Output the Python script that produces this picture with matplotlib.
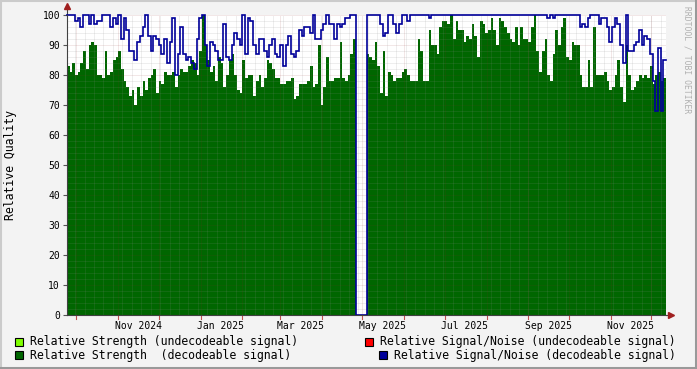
import matplotlib
matplotlib.use("Agg")
import matplotlib.pyplot as plt
from matplotlib.patches import Rectangle
from matplotlib.lines import Line2D
from datetime import datetime, timedelta

# ---------------- data (one value every 2 days) ----------------
start_date = datetime(2024, 9, 24)
end_date = datetime(2025, 12, 12)
step_days = 2

strength_decodeable = [
    83, 81, 84, 80, 81, 84, 88, 82, 90, 91, 90, 80, 80, 79, 88, 80, 81, 85, 86, 88,
    82, 78, 76, 73, 75, 70, 76, 73, 78, 75, 79, 80, 82, 74, 78, 77, 81,
    80, 80, 81, 76, 80, 82, 81, 81, 83, 85, 84, 80, 88, 100, 90, 85, 81, 83, 78, 86,
    84, 76, 80, 85, 87, 80, 75, 74, 85, 79, 80, 80, 73, 78, 80, 76, 79,
    85, 84, 82, 79, 79, 77, 77, 78, 78, 79, 72, 73, 77, 77, 77, 78, 83, 76, 77, 90,
    70, 76, 86, 78, 78, 79, 79, 91, 79, 78, 80, 87, 92, 0, 0, 0, 0,
    87, 86, 85, 91, 83, 74, 88, 73, 81, 80, 78, 79, 79, 81, 82, 80, 78, 78, 78, 92,
    88, 78, 78, 95, 90, 90, 87, 96, 98, 98, 97, 100, 92, 98, 95, 95, 91,
    93, 92, 97, 93, 86, 98, 97, 94, 95, 99, 95, 90, 99, 98, 96, 94, 92, 91, 96, 90,
    96, 92, 92, 91, 96, 100, 88, 81, 88, 92, 80, 78, 87, 95, 90, 96, 99,
    86, 85, 91, 90, 90, 80, 76, 76, 85, 76, 96, 80, 80, 80, 81, 78, 75, 76, 80, 85,
    76, 71, 90, 80, 75, 76, 78, 80, 79, 80, 79, 83, 77, 80, 81, 78, 79,
]
snr_decodeable = [
    100, 100, 100, 98, 99, 96, 100, 100, 97, 100, 97, 98, 98, 100, 100, 100, 96, 99, 97, 100,
    92, 99, 95, 88, 88, 85, 91, 93, 96, 100, 93, 88, 93, 92, 90, 87, 92,
    84, 91, 99, 80, 87, 96, 87, 85, 86, 84, 82, 92, 99, 100, 90, 83, 91, 90, 88, 85,
    85, 97, 86, 85, 90, 94, 92, 90, 100, 87, 99, 98, 90, 87, 92, 92, 88,
    86, 90, 92, 87, 86, 90, 83, 90, 93, 87, 86, 88, 95, 93, 96, 96, 94, 100, 92, 92,
    95, 97, 100, 97, 97, 92, 97, 96, 97, 99, 99, 100, 100, 0, 0, 0, 0,
    100, 100, 100, 100, 100, 97, 93, 94, 100, 100, 97, 94, 97, 100, 100, 98, 100, 100, 100, 100,
    100, 100, 100, 99, 100, 100, 100, 100, 100, 100, 100, 100, 100, 100, 100, 100, 100,
    100, 100, 100, 100, 100, 100, 100, 100, 100, 100, 100, 100, 100, 100, 100, 100, 100, 100, 100, 100,
    100, 100, 100, 100, 100, 100, 100, 100, 100, 100, 99, 100, 99, 100, 100, 100, 100,
    100, 100, 100, 100, 100, 96, 97, 96, 99, 100, 100, 100, 97, 99, 99, 96, 91, 96, 99, 97,
    90, 84, 100, 88, 88, 90, 91, 95, 90, 93, 92, 87, 78, 68, 89, 68, 85,
]

y_ticks = [0, 10, 20, 30, 40, 50, 60, 70, 80, 90, 100]
x_tick_labels = ["Nov 2024", "Jan 2025", "Mar 2025", "May 2025", "Jul 2025", "Sep 2025", "Nov 2025"]

legend_left = ["Relative Strength (undecodeable signal)", "Relative Strength  (decodeable signal)"]
legend_right = ["Relative Signal/Noise (undecodeable signal)", "Relative Signal/Noise (decodeable signal)"]
color_strength_undec = "#80ff00"
color_strength_dec = "#006600"
color_snr_undec = "#ff0000"
color_snr_dec = "#000099"

# ---------------- figure ----------------
W, H = 697, 369
MONO = "DejaVu Sans Mono"
fig = plt.figure(figsize=(W / 100, H / 100), dpi=100, facecolor="#f3f3f3")
L, R, T, B = 67, 666, 15, 315
ax = fig.add_axes([L / W, 1 - B / H, (R - L) / W, (B - T) / H])
ax.set_facecolor("white")

n = len(strength_decodeable)
edges = [start_date + timedelta(days=step_days * i) for i in range(n + 1)]
edges = [min(e, end_date) for e in edges]
g = strength_decodeable + [strength_decodeable[-1]]
b = snr_decodeable + [snr_decodeable[-1]]

ax.fill_between(edges, g, 0, step="post", color=color_strength_dec, lw=0, zorder=2)
ax.plot(edges, b, drawstyle="steps-post", color=color_snr_dec, lw=1.2, zorder=4,
        clip_on=False, solid_joinstyle="miter")

ax.set_xlim(start_date, end_date)
ax.set_ylim(0, 100)

# grid (drawn on top of data, as rrdtool does)
grid_c = (0.55, 0.55, 0.55, 0.28)
mgrid_c = (0.55, 0.15, 0.15, 0.22)
for v in range(2, 101, 2):
    if v % 10 == 0:
        continue
    ax.axhline(v, color=grid_c, lw=0.72, ls=(0, (1, 1)), zorder=3)
for v in y_ticks[1:]:
    ax.axhline(v, color=mgrid_c, lw=0.72, ls=(0, (1, 1)), zorder=3)

# minor vertical grid (weekly) and month grid
d = datetime(2024, 9, 30)
while d < end_date:
    ax.axvline(d, color=grid_c, lw=0.72, ls=(0, (1, 1)), zorder=3)
    d += timedelta(days=7)
month_starts = []
y, m = 2024, 10
while datetime(y, m, 1) < end_date:
    month_starts.append(datetime(y, m, 1))
    m += 1
    if m > 12:
        m, y = 1, y + 1
for ms in month_starts:
    ax.axvline(ms, color=mgrid_c, lw=0.72, ls=(0, (1, 1)), zorder=3)

# ticks / labels
ax.set_yticks(y_ticks)
ax.set_yticklabels([str(v) for v in y_ticks], fontfamily=MONO, fontsize=7)
label_pos = [datetime.strptime(s, "%b %Y") + timedelta(days=15) for s in x_tick_labels]
ax.set_xticks(label_pos)
ax.set_xticklabels(x_tick_labels, fontfamily=MONO, fontsize=7)
ax.tick_params(axis="x", length=0, pad=4)
ax.tick_params(axis="y", length=3, width=0.8, color="#555555", pad=2)
for ms in month_starts:
    ax.plot([ms, ms], [0, -1.3], color="#c05050", lw=0.8, clip_on=False, zorder=5)

for s in ["top", "right"]:
    ax.spines[s].set_visible(False)
for s in ["left", "bottom"]:
    ax.spines[s].set_color("#404040")
    ax.spines[s].set_linewidth(0.8)
    ax.spines[s].set_zorder(6)

# extended axes with arrows
ax.plot([0, 0], [1.0, 1.025], transform=ax.transAxes, color="#404040", lw=0.8, clip_on=False)
ax.plot([1.0, 1.0075], [0, 0], transform=ax.transAxes, color="#404040", lw=0.8, clip_on=False)
ax.plot([0], [1.03], marker="^", ms=4, color="#a02020", transform=ax.transAxes, clip_on=False)
ax.plot([1.009], [0], marker=">", ms=4, color="#a02020", transform=ax.transAxes, clip_on=False)

fig.text(11 / W, 1 - 165 / H, "Relative Quality", rotation=90, ha="center", va="center",
         fontfamily=MONO, fontsize=8.3)
fig.text(687 / W, 1 - 60 / H, "RRDTOOL / TOBI OETIKER", rotation=270, ha="center", va="center",
         fontfamily=MONO, fontsize=5.8, color="#b0b0b0")

# legend
LEG_FS = 8.3
def box(x, yc, color):
    fig.add_artist(Rectangle((x / W, 1 - (yc + 4) / H), 8 / W, 8 / H, transform=fig.transFigure,
                             facecolor=color, edgecolor="black", lw=0.8))

row_y = [341.5, 355.2]
box(15, row_y[0], color_strength_undec)
box(15, row_y[1], color_strength_dec)
fig.text(30 / W, 1 - row_y[0] / H, legend_left[0], ha="left", va="center", fontfamily=MONO, fontsize=LEG_FS)
fig.text(30 / W, 1 - row_y[1] / H, legend_left[1], ha="left", va="center", fontfamily=MONO, fontsize=LEG_FS)
box(365, row_y[0], color_snr_undec)
box(379, row_y[1], color_snr_dec)
fig.text(380 / W, 1 - row_y[0] / H, legend_right[0], ha="left", va="center", fontfamily=MONO, fontsize=LEG_FS)
fig.text(394 / W, 1 - row_y[1] / H, legend_right[1], ha="left", va="center", fontfamily=MONO, fontsize=LEG_FS)

# 3D frame
fig.add_artist(Line2D([0, 1], [1 - 0.5 / H, 1 - 0.5 / H], transform=fig.transFigure, color="#cbcbcb", lw=1.5))
fig.add_artist(Line2D([0.5 / W, 0.5 / W], [0, 1], transform=fig.transFigure, color="#cbcbcb", lw=1.5))
fig.add_artist(Line2D([0, 1], [1.5 / H, 1.5 / H], transform=fig.transFigure, color="#999999", lw=2.2))
fig.add_artist(Line2D([1 - 1.5 / W, 1 - 1.5 / W], [0, 1], transform=fig.transFigure, color="#999999", lw=2.2))

fig.savefig("out.png", dpi=100, facecolor=fig.get_facecolor())
